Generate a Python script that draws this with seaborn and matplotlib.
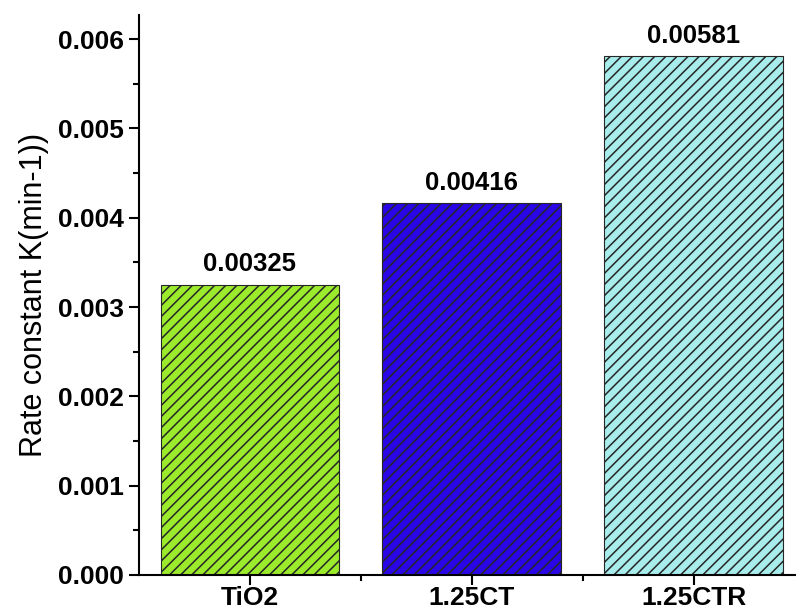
import numpy as np
import pandas as pd
import matplotlib
matplotlib.use("Agg")
import matplotlib.pyplot as plt
from matplotlib.ticker import MultipleLocator
import seaborn as sns

# data
samples = ["TiO2", "1.25CT", "1.25CTR"]
rates = [0.00325, 0.00416, 0.00581]
rate_labels = ["0.00325", "0.00416", "0.00581"]
bar_colors = ["#9bea2c", "#2a06e6", "#a8ecec"]

sns.set_theme(style="white")
plt.rcParams["font.family"] = ["Liberation Sans", "DejaVu Sans"]
plt.rcParams["hatch.linewidth"] = 1.1
plt.rcParams["text.color"] = "black"
plt.rcParams["axes.labelcolor"] = "black"
plt.rcParams["xtick.color"] = "black"
plt.rcParams["ytick.color"] = "black"

df = pd.DataFrame({"sample": samples, "rate": rates})

fig = plt.figure(figsize=(7.96, 6.16), dpi=100)
ax = fig.add_axes([0.1746, 0.0666, 0.8254, 0.9091])

sns.barplot(data=df, x="sample", y="rate", hue="sample", palette=bar_colors,
            legend=False, width=0.806, saturation=1, ax=ax)

for p in ax.patches:
    p.set_hatch("///")
    p.set_edgecolor("#262626")
    p.set_linewidth(0.8)

for cont, lab in zip(ax.containers, rate_labels):
    ax.bar_label(cont, labels=[lab], padding=6, fontsize=18.5, fontweight="bold",
                 color="black")

ax.set_xlim(-0.5, 2.46)
ax.set_ylim(0, 0.00627)
ax.yaxis.set_major_locator(MultipleLocator(0.001))
ax.yaxis.set_minor_locator(MultipleLocator(0.0005))
ax.set_xticks([0, 1, 2])
ax.set_xticks([0.5, 1.5], minor=True)
ax.yaxis.set_major_formatter(matplotlib.ticker.FormatStrFormatter("%.3f"))

ax.set_xlabel("")
ax.set_ylabel("Rate constant K(min-1))", fontsize=22, labelpad=6, color="black")

sns.despine(ax=ax)
for s in ["left", "bottom"]:
    ax.spines[s].set_linewidth(1.5)
    ax.spines[s].set_color("black")

ax.tick_params(axis="both", which="major", direction="out", length=7, width=1.5,
               color="black", bottom=True, left=True)
ax.tick_params(axis="both", which="minor", direction="out", length=4, width=1.5,
               color="black", bottom=True, left=True)
ax.tick_params(axis="y", labelsize=19, pad=4)
ax.tick_params(axis="x", labelsize=19, pad=1)
for t in ax.get_xticklabels() + ax.get_yticklabels():
    t.set_fontweight("bold")
    t.set_color("black")

fig.savefig("out.png", dpi=100)
